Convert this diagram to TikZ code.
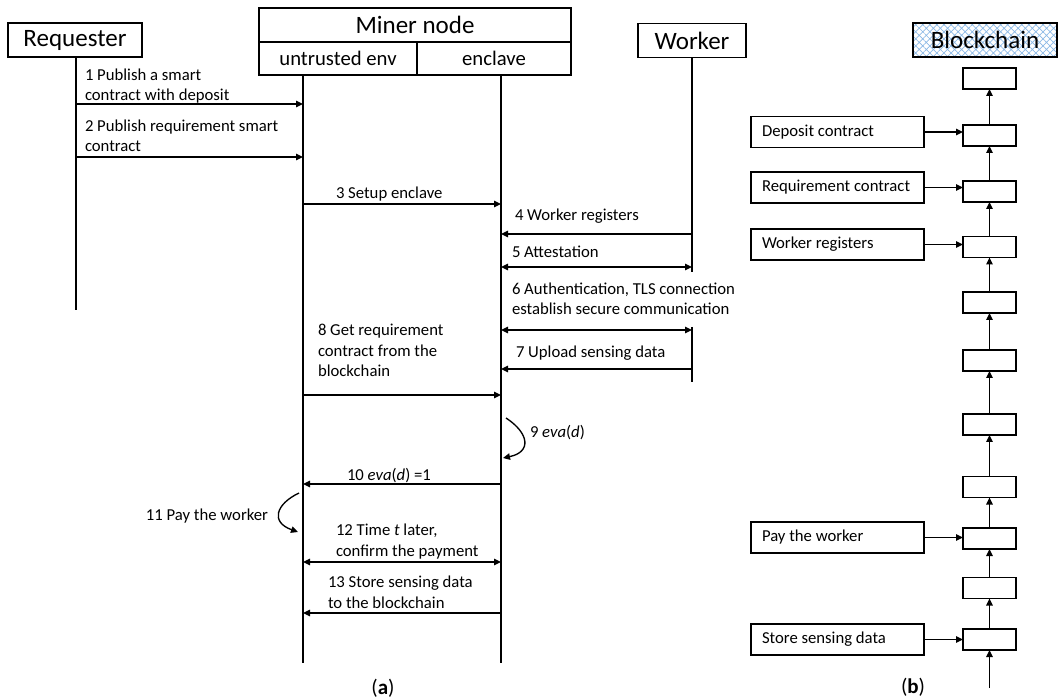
\documentclass[tikz,border=0pt]{standalone}
\usepackage{fontspec}
\setmainfont{Carlito}
\usetikzlibrary{arrows.meta,patterns.meta}
\definecolor{hatchblue}{RGB}{140,185,230}
\begin{document}
\begin{tikzpicture}[x=1pt,y=-1pt,
  every node/.style={inner sep=0pt, outer sep=0pt},
  line width=1.35pt,
  tip/.style={-{Triangle[length=7pt,width=6.5pt]}},
  both/.style={{Triangle[length=7pt,width=6.5pt]}-{Triangle[length=7pt,width=6.5pt]}},
  actor/.style={draw, font=\fontsize{25}{28}\selectfont, minimum height=34pt},
  msg/.style={font=\fontsize{16.7}{20.5}\selectfont, anchor=base west, align=left},
  note/.style={draw, font=\fontsize{16.7}{20}\selectfont, minimum width=173pt, minimum height=31pt},
  blk/.style={draw, minimum width=53pt, minimum height=21pt},
  caption/.style={font=\fontsize{21}{24}\selectfont}
]
\useasboundingbox (0,0) rectangle (1058,700);

% ---------- actors ----------
\node[actor, minimum width=134pt] (req) at (75,40) {Requester};
\node[actor, minimum width=108pt] (wrk) at (692,40.5) {Worker};
\node[actor, minimum width=144pt, minimum height=34pt,
      preaction={fill=white},
      pattern={Hatch[angle=45,distance=5pt,line width=0.7pt]},
      pattern color=hatchblue] (bc) at (985,40) {Blockchain};

% miner node with its two compartments
\node[draw, minimum width=312pt, minimum height=34pt, font=\fontsize{25}{28}\selectfont] (miner) at (415,25) {Miner node};
\node[draw, minimum width=158pt, minimum height=33pt, font=\fontsize{20.7}{24}\selectfont] (unt) at (338,58.5) {untrusted env};
\node[draw, minimum width=154pt, minimum height=33pt, font=\fontsize{20.7}{24}\selectfont] (enc) at (494,58.5) {enclave};

% ---------- lifelines ----------
\coordinate (reqX) at (76,0);
\coordinate (untX) at (303,0);
\coordinate (encX) at (501,0);
\coordinate (wrkX) at (692,0);
\coordinate (reqEnd) at (76,310);
\coordinate (untEnd) at (303,663);
\coordinate (encEnd) at (501,663);
\coordinate (wrkEnd) at (692,272);
\coordinate (wrkTop2) at (692,327);
\coordinate (wrkEnd2) at (692,382);
\draw (reqX |- req.south) -- (reqEnd);
\draw (untX |- unt.south) -- (untEnd);
\draw (encX |- enc.south) -- (encEnd);
\draw (wrk.south) -- (wrkEnd);
\draw (wrkTop2) -- (wrkEnd2);

% ---------- messages (label anchored on its last baseline) ----------
\draw[tip] (reqX |- 0,104) -- (untX |- 0,104);
\node[msg] at (85,101) {1 Publish a smart\\contract with deposit};
\draw[tip] (reqX |- 0,157) -- (untX |- 0,157);
\node[msg] at (85,152) {2 Publish requirement smart\\contract};
\draw[tip] (untX |- 0,204) -- (encX |- 0,204);
\node[msg] at (336,199) {3 Setup enclave};
\draw[tip] (wrkX |- 0,234) -- (encX |- 0,234);
\node[msg] at (515,221) {4 Worker registers};
\draw[both] (encX |- 0,267) -- (wrkX |- 0,267);
\node[msg] at (512,258) {5 Attestation};
\draw[both] (encX |- 0,330) -- (wrkX |- 0,330);
\node[msg] at (512,315) {6 Authentication, TLS connection\\establish secure communication};
\draw[tip] (wrkX |- 0,369) -- (encX |- 0,369);
\node[msg] at (516,358) {7 Upload sensing data};
\draw[tip] (untX |- 0,395) -- (encX |- 0,395);
\node[msg] at (318,377) {8 Get requirement\\contract from the\\blockchain};

% self call on the enclave
\coordinate (s9a) at (506,418);
\coordinate (s9b) at (503,458);
\draw[tip] (s9a) .. controls (529,433) and (532,452) .. (s9b);
\node[msg] at (530,438) {9 \textit{eva}(\textit{d})};

\draw[tip] (encX |- 0,484) -- (untX |- 0,484);
\node[msg] at (347,480) {10 \textit{eva}(\textit{d}) =1};

% self call on the untrusted side
\coordinate (s11a) at (299,493);
\coordinate (s11b) at (298,532);
\draw[tip] (s11a) .. controls (276,504) and (270,522) .. (s11b);
\node[msg, anchor=base east] at (268,520) {11 Pay the worker};

\draw[both] (untX |- 0,562) -- (encX |- 0,562);
\node[msg] at (336,556) {12 Time \textit{t} later,\\confirm the payment};
\draw[tip] (encX |- 0,613) -- (untX |- 0,613);
\node[msg] at (328,608) {13 Store sensing data\\to the blockchain};

\node[caption] (capa) at (383,688) {(\textbf{a})};

% ---------- chain of blocks ----------
\foreach \i/\y in {1/78.5,2/135.5,3/191.5,4/247,5/302.5,6/360.5,7/424.5,8/487,9/538.5,10/588,11/639.5}
  \node[blk] (b\i) at (989.5,\y) {};
\foreach \i [evaluate=\i as \j using int(\i+1)] in {1,...,10}
  \draw[tip] (b\j.north) -- (b\i.south);
\coordinate (chainIn) at (989.5,688);
\draw[tip] (chainIn) -- (b11.south);

% transactions written into blocks
\newcommand\notetext[1]{\makebox[151pt][l]{#1}}
\node[note] (n1) at (837.5,132) {\notetext{Deposit contract}};
\node[note] (n2) at (837.5,187.5) {\notetext{Requirement contract}};
\node[note] (n3) at (837.5,244.5) {\notetext{Worker registers}};
\node[note] (n4) at (837.5,537.5) {\notetext{Pay the worker}};
\node[note] (n5) at (837.5,639.5) {\notetext{Store sensing data}};
\draw[tip] (n1.east) -- (n1.east -| b2.west);
\draw[tip] (n2.east) -- (n2.east -| b3.west);
\draw[tip] (n3.east) -- (n3.east -| b4.west);
\draw[tip] (n4.east) -- (n4.east -| b9.west);
\draw[tip] (n5.east) -- (n5.east -| b11.west);

\node[caption] (capb) at (913,687) {(\textbf{b})};
\end{tikzpicture}
\end{document}
